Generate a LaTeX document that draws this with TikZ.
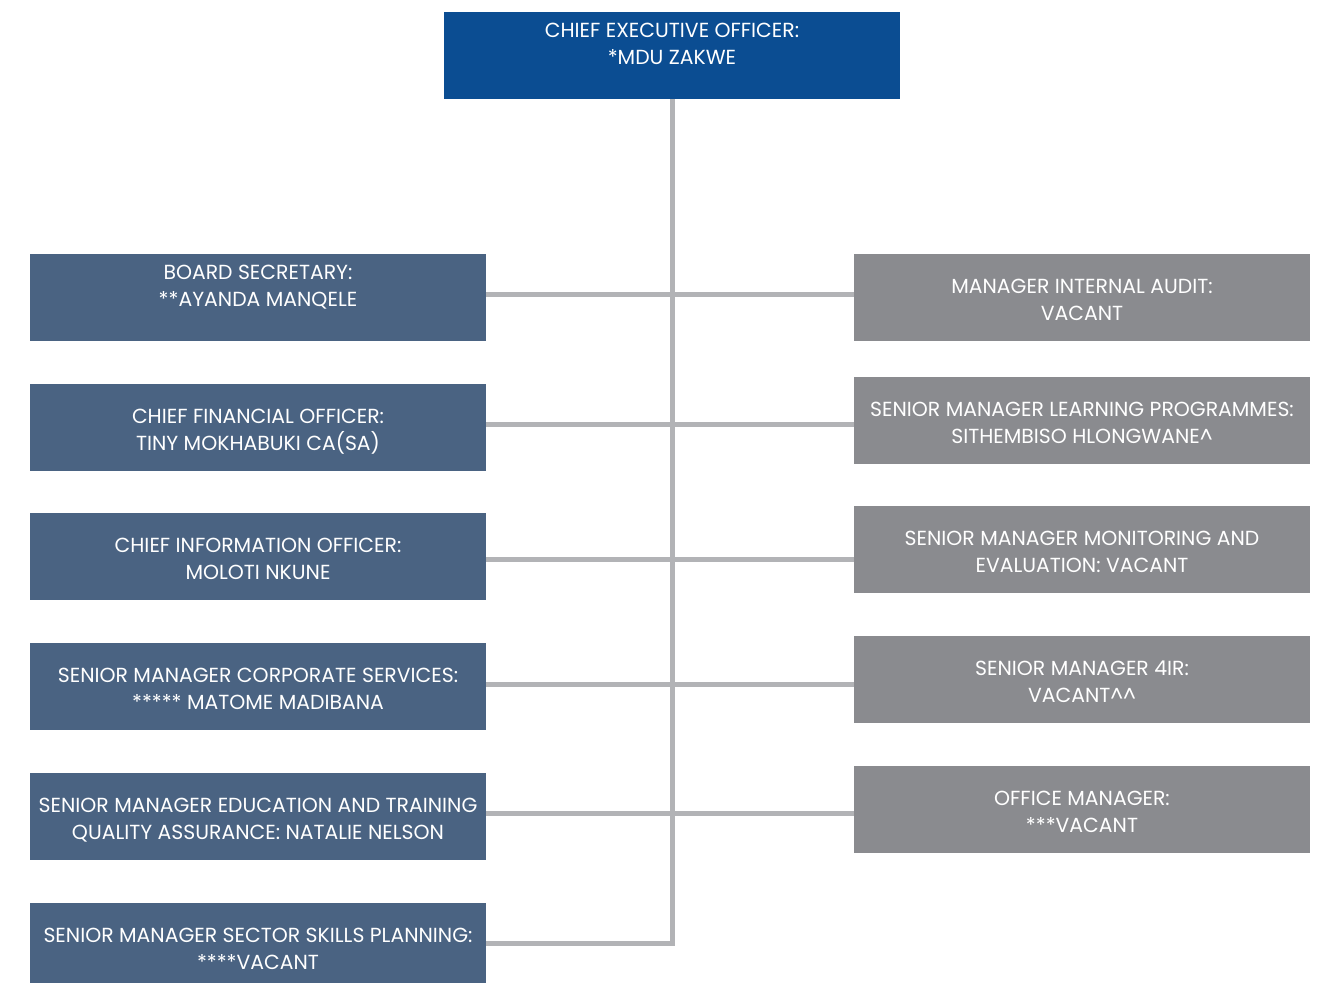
\documentclass[tikz,border=0pt]{standalone}
\usepackage{xcolor}
\usepackage{fontspec}
\setmainfont{Poppins}
\usepackage{tikz}
\usetikzlibrary{calc}
\usetikzlibrary{positioning}
\definecolor{ceoblue}{HTML}{0B4D92}
\definecolor{leftblue}{HTML}{4A6382}
\definecolor{rightgrey}{HTML}{8A8B8F}
\definecolor{linkgrey}{HTML}{B2B3B6}
\tikzstyle{post} = [draw=none, inner sep = 0, minimum width = 91.2mm, minimum height = 17.4mm, align = center, text height = 9.2mm, text depth = 0mm, text = white, font = \fontsize{11.6}{15.4}\selectfont]
\tikzstyle{raised} = [text height = 3.6mm]
\tikzstyle{link} = [-, draw = linkgrey, line width = 1mm]

\begin{document}
\begin{tikzpicture}[x = 0.2mm, y = -0.2mm]
\useasboundingbox (0, 0) rectangle (1319, 983);
\node [post, raised, fill = ceoblue] (ceo) at (672, 55.5) {CHIEF EXECUTIVE OFFICER:\\*MDU ZAKWE};
% left column
\node [post, raised, fill = leftblue] (bs)  at (258, 297.5) {BOARD SECRETARY:\\**AYANDA MANQELE};
\node [post, fill = leftblue] (cfo) at (258, 427.5) {CHIEF FINANCIAL OFFICER:\\TINY MOKHABUKI CA(SA)};
\node [post, fill = leftblue] (cio) at (258, 556.5) {CHIEF INFORMATION OFFICER:\\MOLOTI NKUNE};
\node [post, fill = leftblue] (cs)  at (258, 686.5) {SENIOR MANAGER CORPORATE SERVICES:\\***** MATOME MADIBANA};
\node [post, fill = leftblue] (etqa) at (258, 816.5) {SENIOR MANAGER EDUCATION AND TRAINING\\QUALITY ASSURANCE: NATALIE NELSON};
\node [post, fill = leftblue] (ssp) at (258, 946.5) {SENIOR MANAGER SECTOR SKILLS PLANNING:\\****VACANT};
% right column
\node [post, fill = rightgrey] (ia)  at (1082, 297.5) {MANAGER INTERNAL AUDIT:\\VACANT};
\node [post, fill = rightgrey] (lp)  at (1082, 420.5) {SENIOR MANAGER LEARNING PROGRAMMES:\\SITHEMBISO HLONGWANE\^{}};
\node [post, fill = rightgrey] (me)  at (1082, 549.5) {SENIOR MANAGER MONITORING AND\\EVALUATION: VACANT};
\node [post, fill = rightgrey] (fir) at (1082, 679.5) {SENIOR MANAGER 4IR:\\VACANT\^{}\^{}};
\node [post, fill = rightgrey] (om)  at (1082, 809.5) {OFFICE MANAGER:\\***VACANT};
% trunk and branches
\coordinate (j1) at (672, 295);
\coordinate (j2) at (672, 424);
\coordinate (j3) at (672, 559);
\coordinate (j4) at (672, 684);
\coordinate (j5) at (672, 813);
\coordinate (j6) at (672, 943);
\draw [link] (j1 -| bs.east) -- (j1 -| ia.west);
\draw [link] (j2 -| cfo.east) -- (j2 -| lp.west);
\draw [link] (j3 -| cio.east) -- (j3 -| me.west);
\draw [link] (j4 -| cs.east) -- (j4 -| fir.west);
\draw [link] (j5 -| etqa.east) -- (j5 -| om.west);
\draw [link, line join = miter] (ceo.south) -- (j6) -- (j6 -| ssp.east);
\end{tikzpicture}
\end{document}
